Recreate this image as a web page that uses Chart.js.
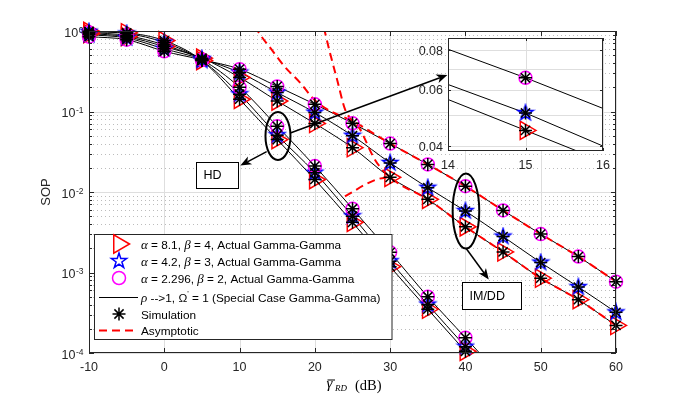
<!DOCTYPE html>
<html>
<head>
<meta charset="utf-8">
<script src="https://cdn.jsdelivr.net/npm/chart.js@4.4.0/dist/chart.umd.min.js"></script>
<style>
  html, body { margin: 0; padding: 0; background: #fff; }
  #wrap { position: relative; width: 682px; height: 398px; }
  #wrap canvas { position: absolute; left: 0; top: 0; }
</style>
</head>
<body>
<div id="wrap">
  <canvas id="main" width="682" height="398"></canvas>
  <canvas id="inset" width="682" height="398"></canvas>
</div>
<script>
// ---- data ----
const snr = [-10, -5, 0, 5, 10, 15, 20, 25, 30, 35, 40, 45, 50, 55, 60];

// HD detection: alpha=8.1/beta=4, alpha=4.2/beta=3, alpha=2.296/beta=2
const hd81 = [0.99, 0.95, 0.76, 0.43, 0.142, 0.0448, 0.0143, 0.0042, 0.00118, 0.00035, 0.000105, 0.000032, null, null, null];
const hd42 = [0.98, 0.93, 0.72, 0.43, 0.164, 0.0508, 0.0174, 0.0050, 0.00138, 0.00040, 0.000120, 0.000036, null, null, null];
const hd23 = [0.96, 0.88, 0.67, 0.44, 0.200, 0.0655, 0.0210, 0.0062, 0.00178, 0.00050, 0.000155, 0.000048, null, null, null];

// IM/DD detection
const im81 = [0.93, 0.85, 0.64, 0.46, 0.265, 0.135, 0.071, 0.0355, 0.0152, 0.0081, 0.0037, 0.0018, 0.00085, 0.00046, 0.00022];
const im42 = [0.90, 0.82, 0.60, 0.45, 0.305, 0.172, 0.097, 0.050, 0.023, 0.0113, 0.0058, 0.0028, 0.00133, 0.00066, 0.00032];
const im23 = [0.85, 0.78, 0.56, 0.44, 0.336, 0.205, 0.123, 0.0714, 0.040, 0.022, 0.0118, 0.0059, 0.0030, 0.00158, 0.00077];

// asymptotic curves
const asymX23 = [12, 13, 14, 16, 18, 20, 22, 25, 30, 35, 40, 45, 50, 55, 60];
const asym23  = [1.15, 0.83, 0.63, 0.36, 0.23, 0.138, 0.102, 0.076, 0.040, 0.022, 0.0118, 0.0059, 0.0030, 0.00158, 0.00077];
const asymX81 = [21.2, 22, 23, 24, 26, 28, 30, 35, 40, 45, 50, 55, 60];
const asym81  = [1.1, 0.54, 0.24, 0.107, 0.060, 0.025, 0.0152, 0.0081, 0.0037, 0.0018, 0.00085, 0.00046, 0.00022];
const asymX42 = [24, 25, 26.5, 28.3, 30];
const asym42  = [0.0088, 0.0100, 0.0121, 0.0144, 0.0155];

// zoomed inset around 15 dB
const insetX = [14, 15, 16];
const inset23 = [0.0805, 0.0655, 0.0525];
const inset42 = [0.0624, 0.0508, 0.0400];
const inset81 = [0.0560, 0.0448, 0.0358];

const xTicks = [-10, 0, 10, 20, 30, 40, 50, 60];
const yDecades = [-4, -3, -2, -1, 0];
const insetYTicks = [0.04, 0.06, 0.08];
const insetYGrid = [0.04, 0.05, 0.06, 0.07, 0.08];
const insetXTicks = [14, 15, 16];

// ---- styling ----
const AX = '#262626';
const SANS = '"Liberation Sans", Arial, Helvetica, sans-serif';
const SERIF = '"Liberation Serif", "Times New Roman", serif';
const RED = '#ff0000', BLUE = '#0000ff', MAG = '#ff00ff';

function pentagram(color, R) {
  const c = document.createElement('canvas');
  const s = Math.ceil(R * 2 + 4);
  c.width = s; c.height = s;
  const g = c.getContext('2d');
  g.strokeStyle = color; g.lineWidth = 1.5;
  g.beginPath();
  for (let k = 0; k < 10; k++) {
    const r = k % 2 ? R * 0.382 : R;
    const a = -Math.PI / 2 + k * Math.PI / 5;
    const px = s / 2 + r * Math.cos(a), py = s / 2 + r * Math.sin(a);
    if (k) g.lineTo(px, py); else g.moveTo(px, py);
  }
  g.closePath(); g.stroke();
  return c;
}
const starImg = pentagram(BLUE, 8);

const pts = (xs, ys, floor) => xs.map((x, i) => ({ x, y: (ys[i] != null && (!floor || ys[i] >= floor)) ? ys[i] : null }));

function marker(xs, ys, style, color, r, extra) {
  return Object.assign({
    data: pts(xs, ys, 1e-4), showLine: false, clip: false,
    pointStyle: style, pointRadius: r, pointBorderWidth: 1.5,
    pointBorderColor: color, pointBackgroundColor: 'rgba(0,0,0,0)',
    borderColor: color, backgroundColor: 'rgba(0,0,0,0)'
  }, extra || {});
}
function sim(xs, ys) { return marker(xs, ys, 'star', '#000', 6.5); }
function curve(xs, ys) {
  return { data: pts(xs, ys), borderColor: '#000', borderWidth: 1, pointRadius: 0, cubicInterpolationMode: 'monotone' };
}
function asym(xs, ys) {
  return { data: pts(xs, ys), borderColor: RED, borderWidth: 2, borderDash: [8, 5], pointRadius: 0, cubicInterpolationMode: 'monotone' };
}

// annotations, anchored in data coordinates
const ellipses = [
  { x: 15.1, y: 0.0497, rx: 12.5, ry: 24 },
  { x: 40.07, y: 0.0058, rx: 13.3, ry: 37.5 }
];
const arrows = [
  { from: [16.74, 0.054], to: [37.6, 0.284] },
  { from: [13.6, 0.0318], to: [10.1, 0.0213] },
  { from: [40.1, 0.00199], to: [43.1, 0.000818] }
];
const boxes = [
  { text: 'HD', x: 4.25, y: 0.0236, w: 42, h: 26, pad: 7 },
  { text: 'IM/DD', x: 39.55, y: 0.000769, w: 59, h: 27, pad: 7 }
];

function drawArrow(ctx, x1, y1, x2, y2) {
  const a = Math.atan2(y2 - y1, x2 - x1), L = 11, W = 4.5, N = 3;
  const c = Math.cos(a), s = Math.sin(a);
  const nx = x2 - (L - N) * c, ny = y2 - (L - N) * s;
  const bx = x2 - L * c, by = y2 - L * s;
  ctx.beginPath(); ctx.moveTo(x1, y1); ctx.lineTo(nx, ny); ctx.stroke();
  ctx.beginPath();
  ctx.moveTo(x2, y2);
  ctx.lineTo(bx - W * s, by + W * c);
  ctx.lineTo(nx, ny);
  ctx.lineTo(bx + W * s, by - W * c);
  ctx.closePath(); ctx.fill();
}

function rich(ctx, x, y, segs) {
  for (const s of segs) {
    ctx.font = s.f;
    ctx.fillText(s.t, x, y + (s.dy || 0));
    x += ctx.measureText(s.t).width;
  }
}

const LF = '11.8px ' + SANS, GF = 'italic 13px ' + SERIF;
const legendRows = [
  { kind: 'tri', segs: [{ t: 'α', f: GF }, { t: ' = 8.1, ', f: LF }, { t: 'β', f: GF }, { t: ' = 4, Actual Gamma-Gamma', f: LF }] },
  { kind: 'pent', segs: [{ t: 'α', f: GF }, { t: ' = 4.2, ', f: LF }, { t: 'β', f: GF }, { t: ' = 3, Actual Gamma-Gamma', f: LF }] },
  { kind: 'circ', segs: [{ t: 'α', f: GF }, { t: ' = 2.296, ', f: LF }, { t: 'β', f: GF }, { t: ' = 2, Actual Gamma-Gamma', f: LF }] },
  { kind: 'line', segs: [{ t: 'ρ', f: GF }, { t: ' -->1, Ω', f: LF }, { t: "'", f: '8px ' + SANS, dy: -6 }, { t: ' = 1 (Special Case Gamma-Gamma)', f: LF }] },
  { kind: 'ast', segs: [{ t: 'Simulation', f: LF }] },
  { kind: 'dash', segs: [{ t: 'Asymptotic', f: LF }] }
];
const legendBox = { x: 94.5, y: 234.5, w: 297.5, h: 105 };
const legendRowY = [244, 261, 278, 297, 314, 330.5];

const mainPlugin = {
  id: 'mainPlugin',
  beforeDatasetsDraw(chart) {
    const { ctx, chartArea: a, scales: { x, y } } = chart;
    ctx.save();
    ctx.fillStyle = '#fff';
    ctx.fillRect(a.left, a.top, a.width, a.height);
    ctx.lineWidth = 1;
    // minor y grid (dotted)
    ctx.strokeStyle = '#bcbcbc';
    ctx.setLineDash([1, 3]);
    ctx.beginPath();
    yDecades.forEach(d => {
      for (let m = 2; m <= 9; m++) {
        const v = m * Math.pow(10, d);
        if (v > 1) continue;
        const py = Math.round(y.getPixelForValue(v)) + 0.5;
        ctx.moveTo(a.left, py); ctx.lineTo(a.right, py);
      }
    });
    ctx.stroke();
    ctx.setLineDash([]);
    // major grid
    ctx.strokeStyle = '#dedede';
    ctx.beginPath();
    xTicks.forEach(v => {
      const px = Math.round(x.getPixelForValue(v)) + 0.5;
      ctx.moveTo(px, a.top); ctx.lineTo(px, a.bottom);
    });
    yDecades.forEach(d => {
      const py = Math.round(y.getPixelForValue(Math.pow(10, d))) + 0.5;
      ctx.moveTo(a.left, py); ctx.lineTo(a.right, py);
    });
    ctx.stroke();
    ctx.restore();
  },
  afterDatasetsDraw(chart) {
    const { ctx, chartArea: a, scales: { x, y } } = chart;
    ctx.save();
    // axes box and ticks
    ctx.strokeStyle = AX; ctx.lineWidth = 1;
    ctx.strokeRect(a.left + 0.5, a.top + 0.5, a.width - 1, a.height - 1);
    ctx.beginPath();
    xTicks.forEach(v => {
      const px = Math.round(x.getPixelForValue(v)) + 0.5;
      ctx.moveTo(px, a.bottom); ctx.lineTo(px, a.bottom - 5);
      ctx.moveTo(px, a.top); ctx.lineTo(px, a.top + 5);
    });
    yDecades.forEach(d => {
      for (let m = 1; m <= 9; m++) {
        const v = m * Math.pow(10, d);
        if (v > 1) continue;
        const len = m === 1 ? 5 : 3;
        const py = Math.round(y.getPixelForValue(v)) + 0.5;
        ctx.moveTo(a.left, py); ctx.lineTo(a.left + len, py);
        ctx.moveTo(a.right, py); ctx.lineTo(a.right - len, py);
      }
    });
    ctx.stroke();

    // tick labels
    ctx.fillStyle = AX;
    ctx.font = '12.5px ' + SANS;
    ctx.textAlign = 'center'; ctx.textBaseline = 'middle';
    xTicks.forEach(v => ctx.fillText(String(v), x.getPixelForValue(v), 368));
    ctx.textAlign = 'left'; ctx.textBaseline = 'alphabetic';
    yDecades.forEach(d => {
      const py = y.getPixelForValue(Math.pow(10, d));
      const exp = d === 0 ? '0' : '-' + Math.abs(d);
      ctx.font = '8.5px ' + SANS;
      const we = ctx.measureText(exp).width;
      ctx.font = '12.5px ' + SANS;
      const wb = ctx.measureText('10').width;
      const x0 = 83 - we - wb;
      ctx.fillText('10', x0, py + 5.8);
      ctx.font = '8.5px ' + SANS;
      ctx.fillText(exp, x0 + wb + 0.5, py + 1.5);
    });

    // axis titles
    ctx.save();
    ctx.translate(46, 192); ctx.rotate(-Math.PI / 2);
    ctx.font = '13px ' + SANS; ctx.textAlign = 'center'; ctx.textBaseline = 'middle';
    ctx.fillText('SOP', 0, 0);
    ctx.restore();
    ctx.fillStyle = '#000';
    ctx.font = 'italic 15px ' + SERIF;
    ctx.fillText('γ', 326.5, 388);
    ctx.fillRect(327.5, 379.5, 7.5, 1);
    ctx.font = 'italic 9px ' + SERIF;
    ctx.fillText('RD', 335, 391);
    ctx.font = '14.5px ' + SERIF;
    ctx.fillText('(dB)', 355, 390);

    // annotations
    ctx.strokeStyle = '#000'; ctx.fillStyle = '#000';
    ctx.lineWidth = 2;
    ellipses.forEach(e => {
      ctx.beginPath();
      ctx.ellipse(x.getPixelForValue(e.x), y.getPixelForValue(e.y), e.rx, e.ry, 0, 0, Math.PI * 2);
      ctx.stroke();
    });
    ctx.lineWidth = 1.5;
    arrows.forEach(r => drawArrow(ctx,
      x.getPixelForValue(r.from[0]), y.getPixelForValue(r.from[1]),
      x.getPixelForValue(r.to[0]), y.getPixelForValue(r.to[1])));
    ctx.lineWidth = 1;
    ctx.font = '12.5px ' + SANS; ctx.textBaseline = 'middle'; ctx.textAlign = 'left';
    boxes.forEach(b => {
      const bx = Math.round(x.getPixelForValue(b.x)) + 0.5, by = Math.round(y.getPixelForValue(b.y)) + 0.5;
      ctx.fillStyle = '#fff'; ctx.fillRect(bx, by, b.w, b.h);
      ctx.strokeStyle = '#000'; ctx.strokeRect(bx, by, b.w, b.h);
      ctx.fillStyle = '#000'; ctx.fillText(b.text, bx + b.pad, by + b.h / 2 + 0.5);
    });

    // legend
    const L = legendBox;
    ctx.fillStyle = '#fff'; ctx.fillRect(L.x, L.y, L.w, L.h);
    ctx.strokeStyle = AX; ctx.lineWidth = 1; ctx.strokeRect(L.x, L.y, L.w, L.h);
    const mx = 119;
    legendRows.forEach((row, i) => {
      const ry = legendRowY[i];
      ctx.save();
      ctx.lineWidth = 1.5;
      if (row.kind === 'tri') {
        const r = 10.5;
        ctx.strokeStyle = RED; ctx.beginPath();
        ctx.moveTo(mx + r, ry);
        ctx.lineTo(mx - r / 2, ry - r * 0.866);
        ctx.lineTo(mx - r / 2, ry + r * 0.866);
        ctx.closePath(); ctx.stroke();
      } else if (row.kind === 'pent') {
        ctx.drawImage(starImg, mx - starImg.width / 2, ry - starImg.height / 2);
      } else if (row.kind === 'circ') {
        ctx.strokeStyle = MAG; ctx.beginPath(); ctx.arc(mx, ry, 6.5, 0, Math.PI * 2); ctx.stroke();
      } else if (row.kind === 'ast') {
        ctx.strokeStyle = '#000'; ctx.beginPath();
        for (let k = 0; k < 4; k++) {
          const an = k * Math.PI / 4, c = Math.cos(an) * 6.5, s = Math.sin(an) * 6.5;
          ctx.moveTo(mx - c, ry - s); ctx.lineTo(mx + c, ry + s);
        }
        ctx.stroke();
      } else if (row.kind === 'line') {
        ctx.strokeStyle = '#000'; ctx.lineWidth = 1;
        ctx.beginPath(); ctx.moveTo(99, ry + 0.5); ctx.lineTo(138, ry + 0.5); ctx.stroke();
      } else if (row.kind === 'dash') {
        ctx.strokeStyle = RED; ctx.lineWidth = 2; ctx.setLineDash([8, 5]);
        ctx.beginPath(); ctx.moveTo(99, ry); ctx.lineTo(138, ry); ctx.stroke();
      }
      ctx.restore();
      ctx.fillStyle = '#000'; ctx.textBaseline = 'alphabetic'; ctx.textAlign = 'left';
      rich(ctx, 141, ry + 4.5, row.segs);
    });
    ctx.restore();
  }
};

new Chart(document.getElementById('main'), {
  type: 'line',
  data: {
    datasets: [
      sim(snr, hd81), sim(snr, hd42), sim(snr, hd23),
      sim(snr, im81), sim(snr, im42), sim(snr, im23),
      marker(snr, hd23, 'circle', MAG, 6.5), marker(snr, im23, 'circle', MAG, 6.5),
      marker(snr, hd42, starImg, BLUE, 8), marker(snr, im42, starImg, BLUE, 8),
      marker(snr, hd81, 'triangle', RED, 10.5, { pointRotation: 90 }),
      marker(snr, im81, 'triangle', RED, 10.5, { pointRotation: 90 }),
      asym(asymX23, asym23), asym(asymX81, asym81), asym(asymX42, asym42),
      curve(snr, hd81), curve(snr, hd42), curve(snr, hd23),
      curve(snr, im81), curve(snr, im42), curve(snr, im23)
    ]
  },
  options: {
    responsive: false, animation: false, events: [],
    layout: { padding: { left: 89, right: 66, top: 31, bottom: 45 } },
    plugins: { legend: { display: false }, tooltip: { enabled: false } },
    scales: {
      x: { type: 'linear', display: false, min: -10, max: 60 },
      y: { type: 'logarithmic', display: false, min: 1e-4, max: 1 }
    }
  },
  plugins: [mainPlugin]
});

// ---- inset ----
const insetPlugin = {
  id: 'insetPlugin',
  beforeDatasetsDraw(chart) {
    const { ctx, chartArea: a, scales: { x, y } } = chart;
    ctx.save();
    ctx.fillStyle = '#fff';
    ctx.fillRect(a.left, a.top, a.width, a.height);
    ctx.strokeStyle = '#dedede'; ctx.lineWidth = 1;
    ctx.beginPath();
    insetXTicks.forEach(v => {
      const px = Math.round(x.getPixelForValue(v)) + 0.5;
      ctx.moveTo(px, a.top); ctx.lineTo(px, a.bottom);
    });
    insetYGrid.forEach(v => {
      const py = Math.round(y.getPixelForValue(v)) + 0.5;
      ctx.moveTo(a.left, py); ctx.lineTo(a.right, py);
    });
    ctx.stroke();
    ctx.restore();
  },
  afterDatasetsDraw(chart) {
    const { ctx, chartArea: a, scales: { x, y } } = chart;
    ctx.save();
    ctx.strokeStyle = AX; ctx.lineWidth = 1;
    ctx.strokeRect(a.left + 0.5, a.top + 0.5, a.width - 1, a.height - 1);
    ctx.beginPath();
    insetXTicks.forEach(v => {
      const px = Math.round(x.getPixelForValue(v)) + 0.5;
      ctx.moveTo(px, a.bottom); ctx.lineTo(px, a.bottom - 3);
      ctx.moveTo(px, a.top); ctx.lineTo(px, a.top + 3);
    });
    insetYTicks.forEach(v => {
      const py = Math.round(y.getPixelForValue(v)) + 0.5;
      ctx.moveTo(a.left, py); ctx.lineTo(a.left + 3, py);
      ctx.moveTo(a.right, py); ctx.lineTo(a.right - 3, py);
    });
    ctx.stroke();
    ctx.fillStyle = AX;
    ctx.font = '12.5px ' + SANS;
    ctx.textAlign = 'right'; ctx.textBaseline = 'middle';
    insetYTicks.forEach(v => ctx.fillText(v.toFixed(2), a.left - 5, y.getPixelForValue(v) + 1));
    ctx.textAlign = 'center';
    insetXTicks.forEach(v => ctx.fillText(String(v), x.getPixelForValue(v), 165.5));
    ctx.restore();
  }
};

function insetMarker(ys, style, color, r, extra) {
  return Object.assign({
    data: insetX.map((x, i) => ({ x, y: x === 15 ? ys[i] : null })), showLine: false, clip: false,
    pointStyle: style, pointRadius: r, pointBorderWidth: 1.5,
    pointBorderColor: color, pointBackgroundColor: 'rgba(0,0,0,0)',
    borderColor: color, backgroundColor: 'rgba(0,0,0,0)'
  }, extra || {});
}

new Chart(document.getElementById('inset'), {
  type: 'line',
  data: {
    datasets: [
      insetMarker(inset23, 'star', '#000', 6.5), insetMarker(inset42, 'star', '#000', 6.5), insetMarker(inset81, 'star', '#000', 6.5),
      insetMarker(inset23, 'circle', MAG, 6.5),
      insetMarker(inset42, starImg, BLUE, 8),
      insetMarker(inset81, 'triangle', RED, 10.5, { pointRotation: 90 }),
      { data: pts(insetX, inset23), borderColor: '#000', borderWidth: 1, pointRadius: 0 },
      { data: pts(insetX, inset42), borderColor: '#000', borderWidth: 1, pointRadius: 0 },
      { data: pts(insetX, inset81), borderColor: '#000', borderWidth: 1, pointRadius: 0 }
    ]
  },
  options: {
    responsive: false, animation: false, events: [],
    layout: { padding: { left: 448, right: 79, top: 38, bottom: 247 } },
    plugins: { legend: { display: false }, tooltip: { enabled: false } },
    scales: {
      x: { type: 'linear', display: false, min: 14, max: 16 },
      y: { type: 'logarithmic', display: false, min: 0.0386, max: 0.0873 }
    }
  },
  plugins: [insetPlugin]
});
</script>
</body>
</html>
